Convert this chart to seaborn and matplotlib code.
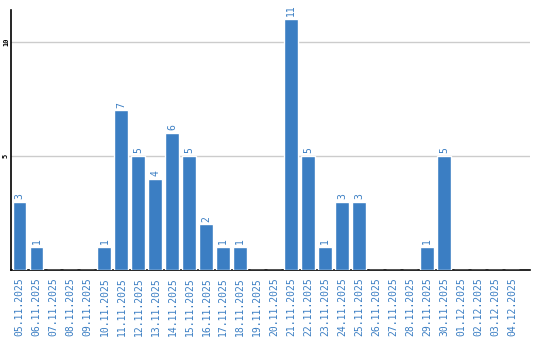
import matplotlib
matplotlib.use("Agg")
import matplotlib.pyplot as plt
import seaborn as sns
import pandas as pd

dates = ["05.11.2025", "06.11.2025", "07.11.2025", "08.11.2025", "09.11.2025",
         "10.11.2025", "11.11.2025", "12.11.2025", "13.11.2025", "14.11.2025",
         "15.11.2025", "16.11.2025", "17.11.2025", "18.11.2025", "19.11.2025",
         "20.11.2025", "21.11.2025", "22.11.2025", "23.11.2025", "24.11.2025",
         "25.11.2025", "26.11.2025", "27.11.2025", "28.11.2025", "29.11.2025",
         "30.11.2025", "01.12.2025", "02.12.2025", "03.12.2025", "04.12.2025"]
counts = [3, 1, 0, 0, 0, 1, 7, 5, 4, 6, 5, 2, 1, 1, 0, 0, 11, 5, 1, 3, 3,
          0, 0, 0, 1, 5, 0, 0, 0, 0]
yticks = [5, 10]

BLUE = "#3b7ec3"
sns.set_style("white")
plt.rcParams["font.family"] = ["DejaVu Sans Mono", "DejaVu Sans"]

df = pd.DataFrame({"date": dates, "count": counts})
fig = plt.figure(figsize=(5.4, 3.4), dpi=100)
ax = fig.add_axes([11 / 540, 70 / 340, 519 / 540, 260 / 340])
sns.barplot(data=df, x="date", y="count", color=BLUE, saturation=1,
            width=0.82, ax=ax, zorder=3)

ax.set_xlim(-0.5, 30.05)
ax.set_ylim(0, 11.4)
ax.set_yticks(yticks)
ax.set_yticklabels([str(v) for v in yticks], rotation=90, fontsize=5,
                   va="center", color="black", fontweight="bold")
ax.yaxis.grid(True, color="#cccccc", linewidth=1, zorder=0)
ax.tick_params(axis="both", length=0)
ax.tick_params(axis="y", pad=1.5)
ax.tick_params(axis="x", pad=5)
plt.setp(ax.get_xticklabels(), rotation=90, fontsize=7, color=BLUE)
ax.set_xlabel("")
ax.set_ylabel("")
for s in ["top", "right"]:
    ax.spines[s].set_visible(False)
for s in ["left", "bottom"]:
    ax.spines[s].set_color("black")
    ax.spines[s].set_linewidth(1.2)

for i, v in enumerate(counts):
    if v > 0:
        ax.text(i, v + 0.12, str(v), rotation=90, ha="center", va="bottom",
                fontsize=7, color=BLUE)

fig.savefig("out.png", dpi=100)
